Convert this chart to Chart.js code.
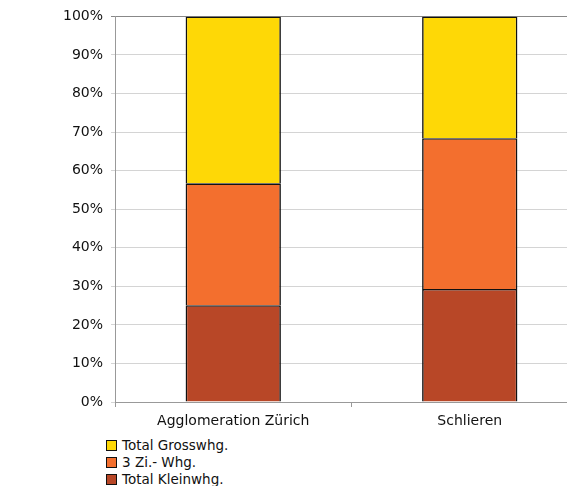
<!DOCTYPE html>
<html>
<head>
<meta charset="utf-8">
<script src="https://cdn.jsdelivr.net/npm/chart.js@4"></script>
<style>
  html, body { margin: 0; padding: 0; background: #fff; overflow: hidden; }
  #wrap { position: absolute; left: 0; top: 0; width: 600px; height: 430px; }
  #legend { position: absolute; left: 106px; top: 437px; font: 13.5px "DejaVu Sans", sans-serif; color: #111; }
  #legend div { height: 17px; line-height: 17px; white-space: nowrap; }
  #legend span.box { display: inline-block; width: 9px; height: 9px; border: 1px solid #111; margin-right: 5px; vertical-align: -1px; }
</style>
</head>
<body>
<div id="wrap"><canvas id="myCanvas" width="600" height="430"></canvas></div>
<div id="legend"></div>
<script>
// Anteile Wohnungsgrössen in %
const categories = ['Agglomeration Zürich', 'Schlieren'];
const kleinwhg = [25.1, 29.3];
const dreiZiWhg = [31.6, 39.1];
const grosswhg = [43.3, 31.6];
const yTicks = [0, 10, 20, 30, 40, 50, 60, 70, 80, 90, 100];

const datasets = [
  { label: 'Total Kleinwhg.', data: kleinwhg, backgroundColor: '#B84727' },
  { label: '3 Zi.- Whg.', data: dreiZiWhg, backgroundColor: '#F36F2E' },
  { label: 'Total Grosswhg.', data: grosswhg, backgroundColor: '#FED806' },
];
datasets.forEach(d => {
  d.borderColor = '#111';
  d.borderWidth = 1.6;
  d.barPercentage = 0.403;
  d.categoryPercentage = 1;
});

const canvas = document.getElementById('myCanvas');
new Chart(canvas, {
  type: 'bar',
  data: { labels: categories, datasets: datasets },
  options: {
    responsive: false,
    animation: false,
    layout: { padding: { top: 16, right: 12, left: 0, bottom: 0 } },
    plugins: { legend: { display: false }, tooltip: { enabled: false } },
    scales: {
      x: {
        stacked: true,
        grid: { drawOnChartArea: false, tickLength: 5, color: '#999' },
        border: { color: '#999', width: 1 },
        ticks: { color: '#111', padding: 6, font: { family: 'DejaVu Sans', size: 14 } },
        afterFit: s => { s.height = 28; }
      },
      y: {
        stacked: true,
        min: 0,
        max: 100,
        afterBuildTicks: s => { s.ticks = yTicks.map(v => ({ value: v })); },
        grid: {
          tickLength: 4,
          color: c => c.tick && c.tick.value === 100 ? '#888' : '#d4d4d4'
        },
        border: { color: '#999', width: 1 },
        ticks: {
          color: '#111',
          padding: 8,
          font: { family: 'DejaVu Sans', size: 14 },
          callback: v => v + '%'
        },
        afterFit: s => { s.width = 115; }
      }
    }
  }
});

// Legende (umgekehrte Reihenfolge wie im Original)
const legend = document.getElementById('legend');
datasets.slice().reverse().forEach(d => {
  const row = document.createElement('div');
  row.innerHTML = '<span class="box" style="background:' + d.backgroundColor + '"></span>' + d.label;
  legend.appendChild(row);
});
</script>
</body>
</html>
